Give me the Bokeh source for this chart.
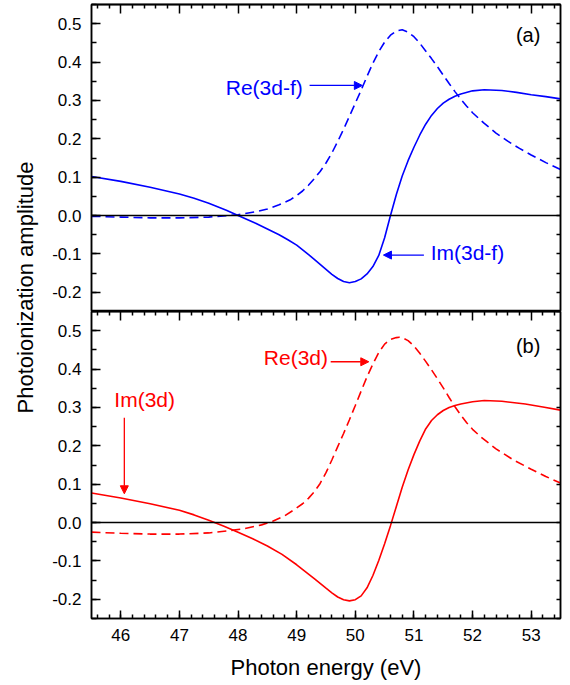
import math
from bokeh.plotting import figure
from bokeh.models import (Range1d, LinearAxis, SingleIntervalTicker, FixedTicker, Span, Label,
                          Arrow, NormalHead, PrintfTickFormatter)
from bokeh.layouts import row, column
from bokeh.embed import file_html
from bokeh.resources import INLINE

# ---------------- data ----------------
x_im_a = [45.5, 46.0, 46.5, 47.0, 47.25, 47.5, 47.65, 47.8, 48.0, 48.3, 48.5, 48.7, 48.85,
          49.0, 49.15, 49.3, 49.5, 49.6, 49.7, 49.8, 49.9, 50.0, 50.1, 50.2, 50.3, 50.4,
          50.5, 50.6, 50.7, 50.8, 50.9, 51.0, 51.1, 51.2, 51.3, 51.4, 51.5, 51.6, 51.7,
          51.8, 52.0, 52.2, 52.5, 52.75, 53.0, 53.25, 53.5]
y_im_a = [0.102, 0.089, 0.074, 0.056, 0.045, 0.032, 0.023, 0.014, 0.000, -0.020, -0.035,
          -0.050, -0.063, -0.077, -0.095, -0.114, -0.140, -0.153, -0.164, -0.172, -0.175,
          -0.172, -0.165, -0.152, -0.133, -0.104, -0.058, 0.000, 0.055, 0.103, 0.143,
          0.178, 0.210, 0.238, 0.261, 0.279, 0.293, 0.303, 0.311, 0.317, 0.325, 0.328,
          0.326, 0.321, 0.315, 0.310, 0.304]

x_re_a = [45.5, 46.0, 46.5, 47.0, 47.5, 47.75, 48.0, 48.3, 48.5, 48.7, 48.9, 49.0, 49.1,
          49.2, 49.3, 49.4, 49.5, 49.6, 49.7, 49.8, 49.9, 50.0, 50.1, 50.2, 50.3, 50.4,
          50.5, 50.6, 50.7, 50.8, 50.9, 51.0, 51.1, 51.2, 51.3, 51.4, 51.5, 51.6, 51.7,
          51.8, 51.9, 52.0, 52.2, 52.4, 52.6, 52.8, 53.0, 53.25, 53.5]
y_re_a = [-0.002, -0.004, -0.006, -0.006, -0.004, -0.001, 0.002, 0.010, 0.017, 0.028, 0.042,
          0.052, 0.064, 0.079, 0.096, 0.115, 0.137, 0.163, 0.193, 0.225, 0.259, 0.293,
          0.327, 0.363, 0.397, 0.427, 0.452, 0.470, 0.481, 0.484, 0.478, 0.466, 0.449,
          0.429, 0.409, 0.388, 0.366, 0.344, 0.323, 0.303, 0.285, 0.268, 0.240, 0.215,
          0.194, 0.175, 0.158, 0.138, 0.120]

x_im_b = [45.5, 46.0, 46.5, 47.0, 47.25, 47.5, 47.75, 48.0, 48.25, 48.5, 48.75, 49.0, 49.3,
          49.5, 49.6, 49.7, 49.8, 49.9, 50.0, 50.1, 50.2, 50.3, 50.4, 50.5, 50.6, 50.7,
          50.8, 50.9, 51.0, 51.1, 51.2, 51.3, 51.4, 51.5, 51.6, 51.7, 51.8, 52.0, 52.2,
          52.5, 52.9, 53.2, 53.5]
y_im_b = [0.077, 0.064, 0.049, 0.032, 0.020, 0.006, -0.009, -0.025, -0.042, -0.061, -0.083,
          -0.110, -0.146, -0.171, -0.183, -0.194, -0.201, -0.204, -0.201, -0.191, -0.170,
          -0.138, -0.099, -0.055, -0.008, 0.042, 0.092, 0.137, 0.177, 0.213, 0.244, 0.266,
          0.281, 0.292, 0.300, 0.305, 0.309, 0.315, 0.318, 0.316, 0.309, 0.301, 0.293]

x_re_b = [45.5, 46.0, 46.5, 47.0, 47.5, 47.8, 48.1, 48.4, 48.6, 48.8, 49.0, 49.1, 49.2,
          49.3, 49.4, 49.5, 49.6, 49.7, 49.8, 49.9, 50.0, 50.1, 50.2, 50.3, 50.4, 50.5,
          50.6, 50.7, 50.75, 50.8, 50.9, 51.0, 51.1, 51.2, 51.3, 51.4, 51.5, 51.6, 51.7,
          51.8, 51.9, 52.0, 52.15, 52.4, 52.7, 53.0, 53.25, 53.5]
y_re_b = [-0.025, -0.028, -0.030, -0.030, -0.027, -0.022, -0.016, -0.006, 0.004, 0.018,
          0.038, 0.049, 0.063, 0.080, 0.102, 0.130, 0.163, 0.198, 0.232, 0.268, 0.305,
          0.343, 0.380, 0.413, 0.443, 0.465, 0.477, 0.482, 0.483, 0.482, 0.474, 0.460,
          0.441, 0.420, 0.398, 0.375, 0.351, 0.326, 0.302, 0.280, 0.260, 0.243, 0.222,
          0.192, 0.163, 0.139, 0.120, 0.103]

x_range = (45.5, 53.5)
y_range = (-0.25, 0.55)
x_major_ticks = [46, 47, 48, 49, 50, 51, 52, 53]

FONT = "Liberation Sans"
BLUE = "#0000ff"
RED = "#ff0000"
FRAME_W = 469
FRAME_H = 307
TOP_B = 4
BOT_B = 66
LEFT_W = 44


def style_axis(a, tin, minin):
    a.major_tick_in = tin
    a.major_tick_out = 0
    a.minor_tick_in = minin
    a.minor_tick_out = 0
    for attr in ("axis_line", "major_tick_line", "minor_tick_line"):
        setattr(a, attr + "_width", 1.5)
        setattr(a, attr + "_color", "black")
    return a


def tick_only_axis(positions, length):
    # axis that draws only (minor) tick marks, no labels
    a = LinearAxis(ticker=FixedTicker(ticks=[], minor_ticks=positions),
                   major_label_standoff=0, axis_line_width=1.5, axis_line_color="black")
    style_axis(a, 0, length)
    return a


def make_fig(top_border, bottom_border):
    p = figure(frame_width=FRAME_W, frame_height=FRAME_H,
               x_range=Range1d(*x_range), y_range=Range1d(*y_range),
               output_backend="svg", toolbar_location=None,
               x_axis_location=None, y_axis_location=None,
               min_border_left=47, min_border_right=8,
               min_border_top=top_border, min_border_bottom=bottom_border)
    p.grid.visible = False
    p.outline_line_color = "black"
    p.outline_line_width = 1.5
    # left axis with labels
    left = LinearAxis(ticker=SingleIntervalTicker(interval=0.1, num_minor_ticks=2),
                      formatter=PrintfTickFormatter(format="%.1f"), major_label_standoff=10,
                      major_label_text_font=FONT, major_label_text_font_size="17px",
                      major_label_text_color="black")
    style_axis(left, 9, 5)
    p.add_layout(left, "left")
    # right axis: short ticks every 0.05
    right_ticks = [round(-0.25 + 0.05 * i, 2) for i in range(17)]
    p.add_layout(tick_only_axis(right_ticks, 4), "right")
    # top axis: long ticks at integers, short ticks every 0.2
    minor_x = [round(45.6 + 0.2 * i, 1) for i in range(40)]
    minor_x = [v for v in minor_x if v < 53.5 and abs(v - round(v)) > 1e-6]
    p.add_layout(tick_only_axis(x_major_ticks, 9), "above")
    p.add_layout(tick_only_axis(minor_x, 4), "above")
    p.add_layout(Span(location=0, dimension="width", line_color="black", line_width=1.5))
    return p


def add_label(p, x, y, text, color, size="21px"):
    p.add_layout(Label(x=x, y=y, text=text, text_color=color, text_font=FONT,
                       text_font_size=size, text_align="left", text_baseline="middle"))


def add_arrow(p, x0, y0, x1, y1, color):
    p.add_layout(Arrow(end=NormalHead(size=8, fill_color=color, line_color=color, line_width=1),
                       x_start=x0, y_start=y0, x_end=x1, y_end=y1,
                       line_color=color, line_width=1.3))


# ---------------- panel (a) ----------------
pa = make_fig(TOP_B, 0)
pa.line(x_re_a, y_re_a, line_color=BLUE, line_width=1.6, line_dash="9 5")
pa.line(x_im_a, y_im_a, line_color=BLUE, line_width=1.6)
add_label(pa, 47.79, 0.333, "Re(3d-f)", BLUE)
add_arrow(pa, 49.22, 0.339, 50.12, 0.339, BLUE)
add_label(pa, 51.285, -0.095, "Im(3d-f)", BLUE)
add_arrow(pa, 51.17, -0.103, 50.48, -0.103, BLUE)
add_label(pa, 52.74, 0.471, "(a)", "black", "20px")

# ---------------- panel (b) ----------------
pb = make_fig(0, BOT_B)
pb.line(x_re_b, y_re_b, line_color=RED, line_width=1.6, line_dash="9 5")
pb.line(x_im_b, y_im_b, line_color=RED, line_width=1.6)
bottom = LinearAxis(ticker=SingleIntervalTicker(interval=1, num_minor_ticks=5),
                    major_label_standoff=10, major_label_text_font=FONT,
                    major_label_text_font_size="17px", major_label_text_color="black",
                    axis_label="Photon energy (eV)", axis_label_text_font=FONT,
                    axis_label_text_font_size="22px", axis_label_text_font_style="normal",
                    axis_label_text_color="black", axis_label_standoff=11)
style_axis(bottom, 8, 4)
pb.add_layout(bottom, "below")
add_label(pb, 48.44, 0.429, "Re(3d)", RED)
add_arrow(pb, 49.58, 0.419, 50.23, 0.419, RED)
add_label(pb, 45.89, 0.32, "Im(3d)", RED)
add_arrow(pb, 46.06, 0.273, 46.06, 0.075, RED)
add_label(pb, 52.74, 0.459, "(b)", "black", "20px")

# ---------------- y-axis title strip ----------------
TOTAL_H = TOP_B + 2 * FRAME_H + BOT_B
pl = figure(width=LEFT_W, height=TOTAL_H, x_range=Range1d(0, LEFT_W), y_range=Range1d(0, TOTAL_H),
            output_backend="svg", toolbar_location=None,
            x_axis_location=None, y_axis_location=None,
            min_border_left=0, min_border_right=0, min_border_top=0, min_border_bottom=0)
pl.grid.visible = False
pl.outline_line_color = None
pl.add_layout(Label(x=25, y=TOTAL_H - 287, text="Photoionization amplitude", angle=math.pi / 2,
                    text_font=FONT, text_font_size="22px", text_color="black",
                    text_align="center", text_baseline="middle"))

layout = row(pl, column(pa, pb, spacing=0), spacing=0)

open("out.html", "w").write(file_html(layout, INLINE))
